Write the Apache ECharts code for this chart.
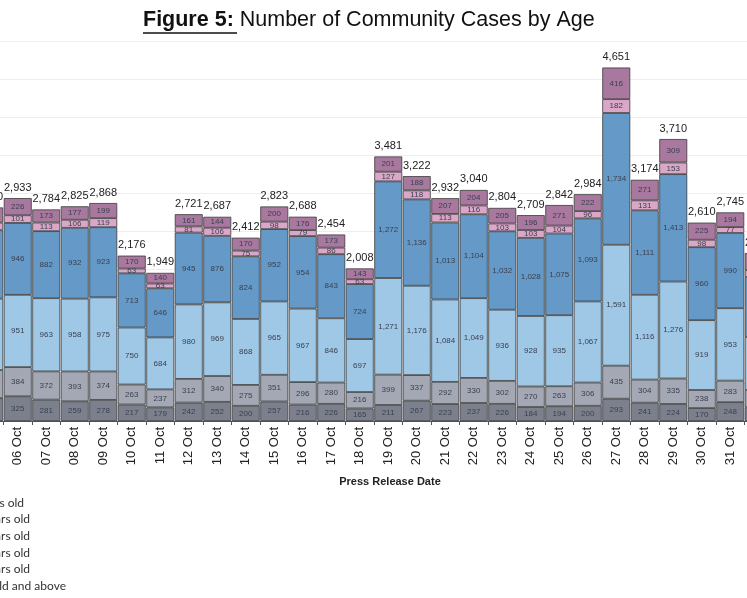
<!DOCTYPE html>
<html><head><meta charset="utf-8">
<script src="https://cdn.jsdelivr.net/npm/echarts@6/dist/echarts.min.js"></script>
<style>html,body{margin:0;padding:0;background:#fff;overflow:hidden;width:747px;height:598px}#c{position:absolute;left:-26px;top:0;width:800px;height:598px}</style>
</head><body><div id="c"></div>
<script>
const categories=['05 Oct','06 Oct','07 Oct','08 Oct','09 Oct','10 Oct','11 Oct','12 Oct','13 Oct','14 Oct','15 Oct','16 Oct','17 Oct','18 Oct','19 Oct','20 Oct','21 Oct','22 Oct','23 Oct','24 Oct','25 Oct','26 Oct','27 Oct','28 Oct','29 Oct','30 Oct','31 Oct','01 Nov'];
const age60plus=[300,325,281,259,278,217,179,242,252,200,257,216,226,165,211,267,223,237,226,184,194,200,293,241,224,170,248,180];
const age50s=[370,384,372,393,374,263,237,312,340,275,351,296,280,216,399,337,292,330,302,270,263,306,435,304,335,238,283,228];
const age40s=[940,951,963,958,975,750,684,980,969,868,965,967,846,697,1271,1176,1084,1049,936,928,935,1067,1591,1116,1276,919,953,697];
const age30s=[900,946,882,932,923,713,646,945,876,824,952,954,843,724,1272,1136,1013,1104,1032,1028,1075,1093,1734,1111,1413,960,990,790];
const age20s=[100,101,113,106,119,63,63,81,106,75,98,79,86,63,127,118,113,116,103,103,104,96,182,131,153,98,77,90];
const age0to19=[200,226,173,177,199,170,140,161,144,170,200,176,173,143,201,188,207,204,205,196,271,222,416,271,309,225,194,225];
const legendNames=['0 - 19 years old','20 - 29 years old','30 - 39 years old','40 - 49 years old','50 - 59 years old','60 years old and above'];
const totals=categories.map((_,i)=>age60plus[i]+age50s[i]+age40s[i]+age30s[i]+age20s[i]+age0to19[i]);
const layers=[
 [legendNames[5],age60plus,'#7b808c'],
 [legendNames[4],age50s,'#a4a8b4'],
 [legendNames[3],age40s,'#9fc8e7'],
 [legendNames[2],age30s,'#6599c7'],
 [legendNames[1],age20s,'#dba7c9'],
 [legendNames[0],age0to19,'#a8789f']
];
const series=layers.map(([n,d,c])=>({name:n,type:'bar',stack:'a',data:d,barCategoryGap:'2%',
 itemStyle:{color:c,borderColor:'#3a3a3a',borderWidth:0.8},
 label:{show:true,position:'inside',fontSize:8,color:'#3a4050',fontFamily:'Arial',
  formatter:p=>p.value.toLocaleString('en-US')}}));
series.push({name:'Total',type:'bar',stack:'a',data:totals.map(()=>0),
 label:{show:true,position:'top',fontSize:11,color:'#222',fontFamily:'Arial',
 formatter:p=>totals[p.dataIndex].toLocaleString('en-US')}});
const chart=echarts.init(document.getElementById('c'));
const legY=[503,519,536,553,569,586];
const legX=[50,56,56,56,56,92];
chart.setOption({
 animation:false,
 grid:{left:1,right:1,top:41,bottom:177},
 xAxis:{type:'category',data:categories,axisTick:{show:true,length:4,lineStyle:{color:'#555'}},
  axisLine:{lineStyle:{color:'#555'}},
  axisLabel:{rotate:90,fontSize:13,color:'#222',fontFamily:'Arial',margin:6},
  name:'Press Release Date',nameLocation:'middle',nameGap:52,
  nameTextStyle:{fontWeight:'bold',fontSize:11,color:'#222',fontFamily:'Arial',padding:[0,0,0,32]}},
 yAxis:{type:'value',min:0,max:5000,interval:500,axisLabel:{show:false},axisLine:{show:false},axisTick:{show:false},
  splitLine:{lineStyle:{color:'#eeeeee'}}},
 series,
 graphic:[
  {type:'text',x:169,top:9,style:{text:'{b|Figure 5:} Number of Community Cases by Age',
   rich:{b:{fontWeight:'bold',fontSize:21.5,fontFamily:'Arial',fill:'#111'}},fontSize:21.5,fontFamily:'Arial',fill:'#111'}},
  {type:'line',shape:{x1:169,y1:33,x2:263,y2:33},style:{stroke:'#111',lineWidth:1.5}},
  ...legendNames.map((n,i)=>({type:'text',x:legX[i],y:legY[i],style:{text:n,textAlign:'right',textVerticalAlign:'middle',fontSize:12,fontFamily:'Lato',fill:'#333'}}))
 ]
});
</script></body></html>
